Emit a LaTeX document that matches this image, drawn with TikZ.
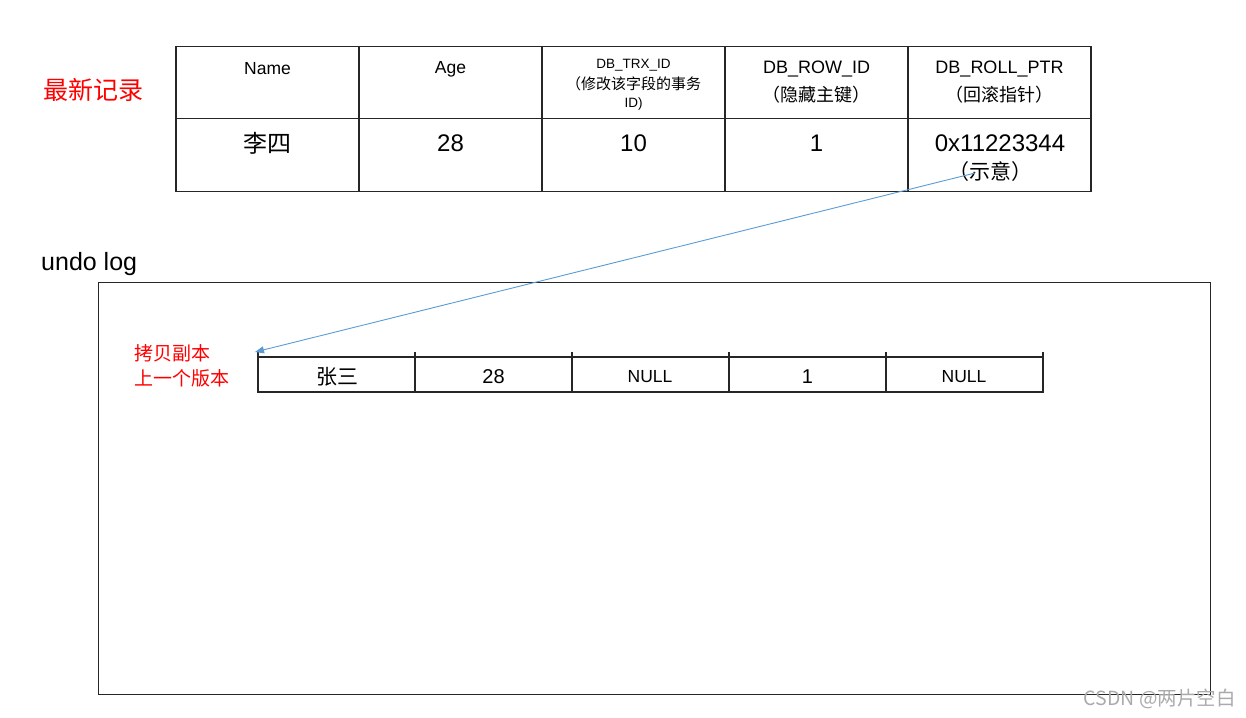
\documentclass[tikz,border=0pt]{standalone}
\usepackage{fontspec}
\setmainfont{Liberation Sans}
\newfontfamily\cjk{Noto Sans CJK SC}
\usetikzlibrary{arrows.meta}
\definecolor{ptrblue}{RGB}{91,155,213}
\definecolor{redtxt}{RGB}{255,0,0}
\definecolor{wm}{RGB}{170,170,170}
\tikzset{
  cell/.style={draw=black!85, line width=1.3pt, minimum width=183pt, minimum height=72.5pt, inner sep=0pt, outer sep=0pt},
  ucell/.style={draw=black!85, line width=1.3pt, minimum width=157pt, minimum height=35pt, inner sep=0pt, outer sep=0pt},
  txt/.style={inner sep=0pt, align=center},
  redlbl/.style={inner sep=0pt, text=redtxt, align=left},
}
\begin{document}
\begin{tikzpicture}[x=1pt,y=-1pt]
\useasboundingbox (0,0) rectangle (1246,717);
% top table
\foreach \i/\x in {1/267.5,2/450.5,3/633.5,4/816.5,5/999.5}{
  \node[cell] (h\i) at (\x,82.5) {};
  \node[cell] (d\i) at (\x,155) {};
}
\node[txt, font=\fontsize{17.5}{20}\selectfont] (hn) at (267.5,69) {Name};
\node[txt, font=\fontsize{17.5}{20}\selectfont] (ha) at (450.5,69) {Age};
\node[txt, font=\fontsize{13.5}{15}\selectfont] (ht1) at (633.5,65) {DB\_TRX\_ID};
\node[txt, font=\fontsize{15}{17}\selectfont\cjk] (ht2) at (633.5,84) {（修改该字段的事务};
\node[txt, font=\fontsize{13.5}{15}\selectfont] (ht3) at (633.5,104) {ID)};
\node[txt, font=\fontsize{18}{20}\selectfont] (hr1) at (816.5,69) {DB\_ROW\_ID};
\node[txt, font=\fontsize{18}{22}\selectfont\cjk] (hr2) at (816.5,95) {（隐藏主键）};
\node[txt, font=\fontsize{18}{20}\selectfont] (hp1) at (999.5,69) {DB\_ROLL\_PTR};
\node[txt, font=\fontsize{18}{22}\selectfont\cjk] (hp2) at (999.5,95) {（回滚指针）};
\node[txt, font=\fontsize{24}{26}\selectfont\cjk] (dn) at (267.5,143) {李四};
\node[txt, font=\fontsize{24}{26}\selectfont] (da) at (450.5,143) {28};
\node[txt, font=\fontsize{24}{26}\selectfont] (dt) at (633.5,143) {10};
\node[txt, font=\fontsize{24}{26}\selectfont] (dr) at (816.5,143) {1};
\node[txt, font=\fontsize{24}{26}\selectfont] (dp1) at (1000,143) {0x11223344};
\node[txt, font=\fontsize{21}{24}\selectfont\cjk] (dp2) at (990,172) {（示意）};
\node[redlbl, font=\fontsize{25}{27}\selectfont\cjk] (newest) at (93,90) {最新记录};
% undo log
\node[inner sep=0pt, anchor=west, font=\fontsize{25}{28}\selectfont] (ulog) at (41,264) {undo log};
\node[draw=black!85, line width=1pt, minimum width=1112pt, minimum height=412pt, inner sep=0pt] (ubox) at (654,488) {};
\foreach \i/\x in {1/336.5,2/493.5,3/650.5,4/807.5,5/964.5}{
  \node[ucell] (u\i) at (\x,374.5) {};
}
\foreach \i in {1,...,5}{
  \draw[black!85, line width=1.3pt] (u\i.north west) -- ++(0,-5);
}
\draw[black!85, line width=1.3pt] (u5.north east) -- ++(0,-5);
\node[txt, font=\fontsize{21}{24}\selectfont\cjk] at (337,376.5) {张三};
\node[txt, font=\fontsize{20}{22}\selectfont] at (493.5,377) {28};
\node[txt, font=\fontsize{17.5}{22}\selectfont] at (650,377) {NULL};
\node[txt, font=\fontsize{20}{22}\selectfont] at (807.5,377) {1};
\node[txt, font=\fontsize{17.5}{22}\selectfont] at (964,377) {NULL};
\node[redlbl, font=\fontsize{19}{25}\selectfont\cjk, anchor=north west] (copy) at (134,344) {拷贝副本\\上一个版本};
% pointer arrow
\coordinate (ptr) at (975,173);
\coordinate (tgt) at (255,352);
\draw[ptrblue, line width=0.9pt, -{Triangle[length=9pt,width=7pt]}] (ptr) -- (tgt);
% watermark
\node[inner sep=0pt, anchor=east, text=wm, font=\fontsize{19.5}{22}\selectfont\cjk] (wmk) at (1236,699) {CSDN @两片空白};
\end{tikzpicture}
\end{document}
